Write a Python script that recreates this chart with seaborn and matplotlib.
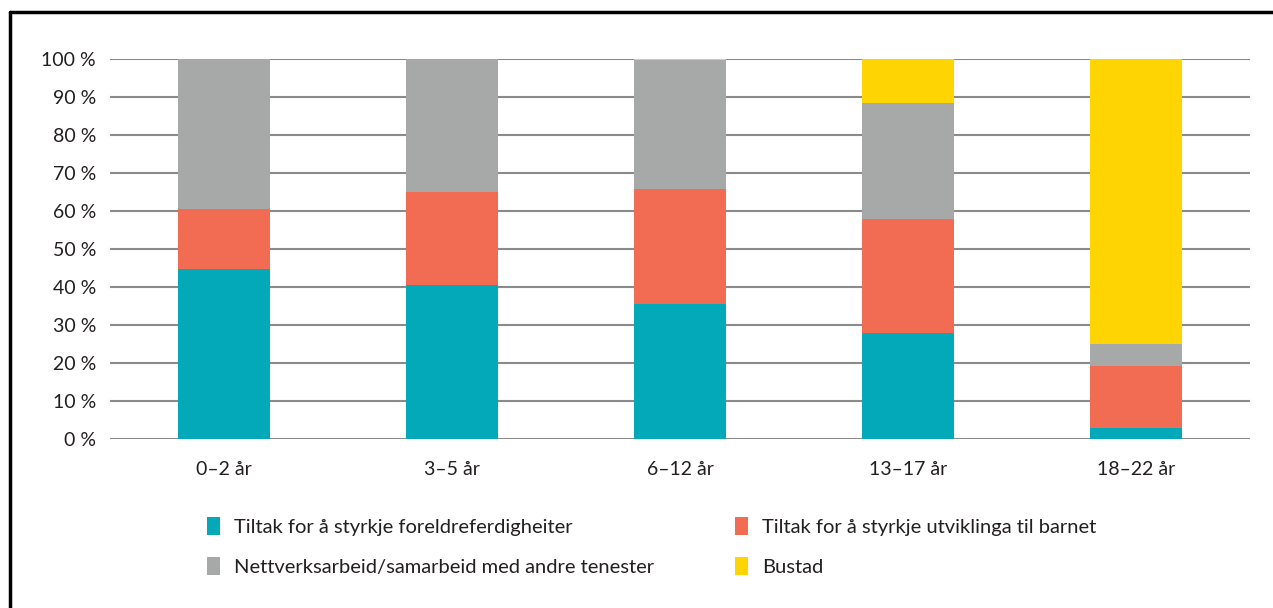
import pandas as pd
import matplotlib.pyplot as plt
from matplotlib.patches import Patch
from matplotlib.lines import Line2D
import seaborn as sns

# Data (share in percent)
ages = ['0–2 år', '3–5 år', '6–12 år', '13–17 år', '18–22 år']
foreldre = [44.7, 40.4, 35.5, 27.9, 3.0]
utvikling = [15.9, 24.5, 30.4, 29.9, 16.2]
nettverk = [39.4, 35.1, 33.9, 30.5, 5.7]
bustad = [0.0, 0.0, 0.2, 11.7, 75.1]

series_names = ['Tiltak for å styrkje foreldreferdigheiter',
                'Tiltak for å styrkje utviklinga til barnet',
                'Nettverksarbeid/samarbeid med andre tenester',
                'Bustad']
colors = ['#03a9b8', '#f26b53', '#a7a9a9', '#fed402']

df = pd.DataFrame({'age': ages, 'f': foreldre, 'u': utvikling, 'n': nettverk, 'b': bustad})
# cumulative tops for the overlap-style stacked bars
df['c1'] = df['f']
df['c2'] = df['c1'] + df['u']
df['c3'] = df['c2'] + df['n']
df['c4'] = df['c3'] + df['b']

sns.set_style('white')
plt.rcParams['font.family'] = ['Lato', 'DejaVu Sans']

fig = plt.figure(figsize=(12.73, 6.08), dpi=100)
ax = fig.add_axes([0.0864, 0.278, 0.8956, 0.625])

# draw tallest first so lower segments sit on top
for col, color in zip(['c4', 'c3', 'c2', 'c1'], colors[::-1]):
    sns.barplot(data=df, x='age', y=col, color=color, width=0.4,
                saturation=1, ax=ax, zorder=2, linewidth=0)

ax.set_xlim(-0.5, 4.5)
ax.set_ylim(0, 100)
ax.set_yticks(range(0, 101, 10))
ax.set_yticklabels([f'{v} %' for v in range(0, 101, 10)])
ax.yaxis.grid(True, color='#8a8a8a', linewidth=1.5, zorder=0)
ax.set_axisbelow(True)
ax.set_xlabel('')
ax.set_ylabel('')
ax.tick_params(axis='both', length=0, labelsize=14, colors='#231f20')
ax.tick_params(axis='x', pad=16)
ax.tick_params(axis='y', pad=10)
for s in ax.spines.values():
    s.set_visible(False)

# legend: row 1 teal/red, row 2 gray/yellow
order = [0, 2, 1, 3]
handles = [Patch(facecolor=colors[i], edgecolor='none') for i in order]
labels = [series_names[i] for i in order]
fig.legend(handles, labels, ncol=2, loc='upper left',
           bbox_to_anchor=(0.1485, 0.179), frameon=False, fontsize=14.5,
           handlelength=0.65, handleheight=1.0, handletextpad=0.7,
           columnspacing=4.0, labelspacing=1.05, labelcolor='#231f20')

# partial frame: top and left lines
fig.add_artist(Line2D([0.0075, 0.0075], [0, 0.981], color='black', linewidth=2.5,
                      transform=fig.transFigure))
fig.add_artist(Line2D([0.0075, 1.0], [0.981, 0.981], color='black', linewidth=2.5,
                      transform=fig.transFigure))

fig.savefig('out.png', dpi=100)
